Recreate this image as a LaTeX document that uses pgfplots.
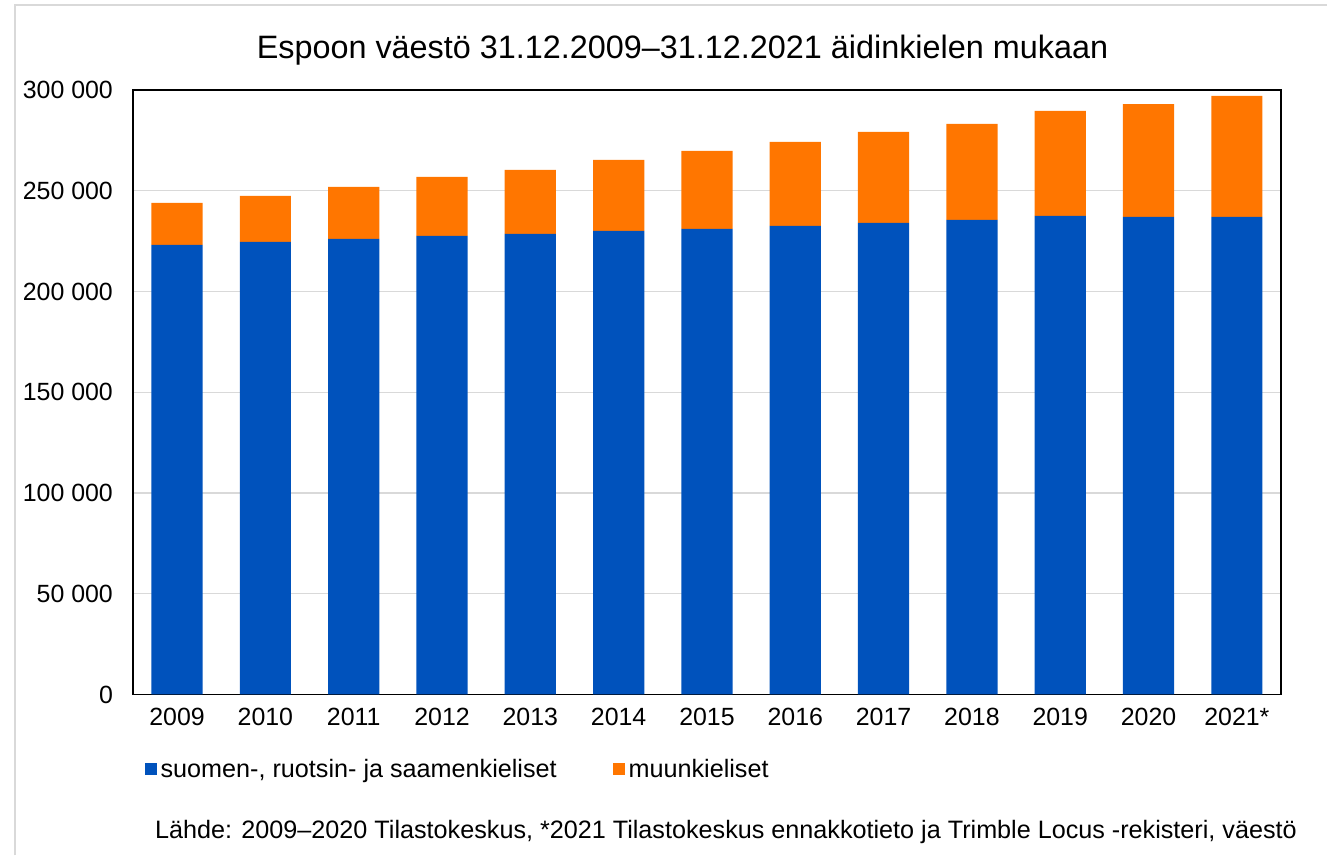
\documentclass[border=0pt]{standalone}
\usepackage{pgfplots}
\pgfplotsset{compat=1.18}
\usepackage{fontspec}
\setmainfont{Liberation Sans}
\definecolor{kieliblue}{RGB}{0,82,188}
\definecolor{muuorange}{RGB}{255,118,0}
\definecolor{framegray}{RGB}{217,217,217}

\begin{document}
\begin{tikzpicture}
% page frame (1328x856 px at 0.75pt/px)
\path (0,0) rectangle (996pt,-642pt);
\draw[framegray, line width=1.5pt] (11.25pt,-642pt) -- (11.25pt,-3.75pt) -- (996pt,-3.75pt);

\begin{axis}[
  at={(99.75pt,-521.25pt)}, anchor=south west,
  scale only axis, width=861.75pt, height=453.75pt,
  ybar stacked, bar width=0.58,
  xmin=-0.5, xmax=12.5,
  ymin=0, ymax=300000,
  xtick={0,...,12},
  xticklabels={2009,2010,2011,2012,2013,2014,2015,2016,2017,2018,2019,2020,2021*},
  ytick={0,50000,100000,150000,200000,250000,300000},
  yticklabels={0,50 000,100 000,150 000,200 000,250 000,300 000},
  scaled y ticks=false,
  major tick length=0pt,
  tick label style={font=\fontsize{18.7}{22}\selectfont},
  yticklabel style={xshift=-11.5pt},
  xticklabel style={yshift=-7pt},
  ymajorgrids, grid style={framegray, line width=1pt},
  axis line style={black, line width=1.3pt},
  legend columns=2,
  legend style={draw=none, fill=none, at={(0.01,-0.124)}, anchor=west,
    font=\fontsize{18.9}{22}\selectfont, inner sep=0pt,
    /tikz/every odd column/.append style={column sep=1pt},
    /tikz/every even column/.append style={column sep=40pt}},
  legend image code/.code={\fill[#1] (0pt,-4.5pt) rectangle (9pt,4.5pt);},
]
\addplot[fill=kieliblue, draw=none] coordinates {
  (0,223100) (1,224600) (2,226100) (3,227600) (4,228600) (5,230100) (6,231100)
  (7,232600) (8,234000) (9,235500) (10,237500) (11,237000) (12,237000)
};
\addplot[fill=muuorange, draw=none] coordinates {
  (0,20900) (1,22800) (2,25800) (3,29300) (4,31700) (5,35200) (6,38700)
  (7,41600) (8,45200) (9,47600) (10,52100) (11,56000) (12,60000)
};
\legend{{suomen-, ruotsin- ja saamenkieliset}, muunkieliset}
\end{axis}

\node[font=\fontsize{24.3}{28}\selectfont] at (512.25pt,-37.5pt)
  {Espoon väestö 31.12.2009–31.12.2021 äidinkielen mukaan};
\node[anchor=west, inner sep=0pt, font=\fontsize{18.9}{22}\selectfont] at (116.25pt,-624.75pt)
  {Lähde: 2009–2020 Tilastokeskus, *2021 Tilastokeskus ennakkotieto ja Trimble Locus -rekisteri, väestö};
\end{tikzpicture}
\end{document}
